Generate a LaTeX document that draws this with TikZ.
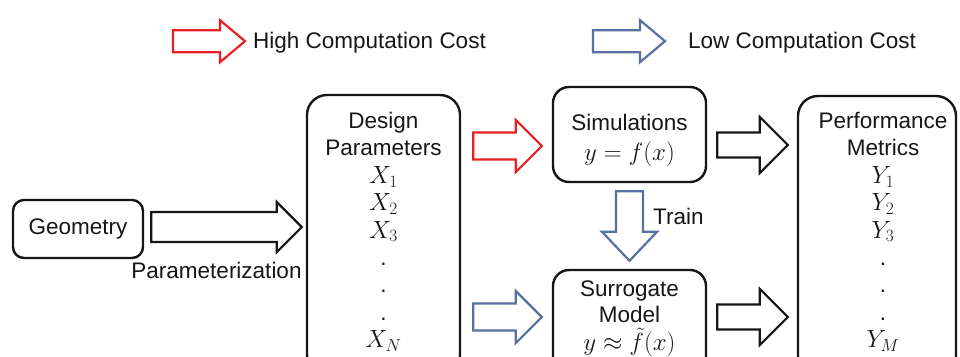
\documentclass[tikz,border=0pt]{standalone}
\usepackage{fontspec}
\setmainfont{Liberation Sans}
\usetikzlibrary{calc}

\definecolor{hotred}{RGB}{232,32,38}
\definecolor{coolblue}{RGB}{86,112,160}
\definecolor{ink}{RGB}{22,22,22}

% math set a little larger than the text around it
\newcommand\mth[1]{{\fontsize{24.5}{27.4}\selectfont$#1$}}

% Hollow block arrow from #2 to #3: #4 body half-width, #5 head half-width, #6 head length
\newcommand\blockarrow[6]{%
  \path (#2) coordinate (ba-s) (#3) coordinate (ba-e);
  \path ($(ba-e)!#6!(ba-s)$) coordinate (ba-h);
  \draw[#1] ($(ba-s)!#4!90:(ba-e)$) -- ($(ba-h)!#4!90:(ba-e)$)
    -- ($(ba-h)!#5!90:(ba-e)$) -- (ba-e) -- ($(ba-h)!#5!-90:(ba-e)$)
    -- ($(ba-h)!#4!-90:(ba-e)$) -- ($(ba-s)!#4!-90:(ba-e)$) -- cycle;}

\tikzset{
  box/.style={draw=ink, line width=2.4pt, inner sep=0pt, text=ink},
  label/.style={text=ink, inner sep=0pt, font=\fontsize{22.5}{26}\selectfont},
  stack/.style={text=ink, inner sep=0pt, align=center, anchor=north},
  costly/.style={draw=hotred, fill=white, line width=2.2pt, line join=miter},
  cheap/.style={draw=coolblue, fill=white, line width=2.2pt, line join=miter},
  plain/.style={draw=ink, fill=white, line width=2.2pt, line join=miter},
}

\begin{document}
\begin{tikzpicture}[x=1pt, y=-1pt]
  \useasboundingbox (0,0) rectangle (960,356);
  \clip (0,0) rectangle (960,356);

  % legend
  \node[label, anchor=base west] (hc) at (253,48) {High Computation Cost};
  \node[label, anchor=base west] (lc) at (688,48) {Low Computation Cost};
  \blockarrow{costly}{$(hc.west)+(-80,-1)$}{$(hc.west)+(-8,-1)$}{11pt}{21pt}{25pt}
  \blockarrow{cheap}{$(lc.west)+(-95,-1)$}{$(lc.west)+(-23,-1)$}{11pt}{21pt}{25pt}

  % boxes
  \node[box, rounded corners=11pt, minimum width=130pt, minimum height=58pt,
        font=\fontsize{22.5}{26}\selectfont] (geo) at (78,229) {Geometry};
  \node[box, rounded corners=20pt, minimum width=153pt, minimum height=280pt] (dp) at (383.5,235) {};
  \node[box, rounded corners=16pt, minimum width=153pt, minimum height=95pt] (sim) at (629.5,134.5) {};
  \node[box, rounded corners=16pt, minimum width=153pt, minimum height=110pt] (sur) at (629.5,325) {};
  \node[box, rounded corners=20pt, minimum width=158pt, minimum height=280pt] (pm) at (877,236) {};

  % box contents
  \node[stack, font=\fontsize{22.5}{27.4}\selectfont] (dp-txt) at (383.5,112)
    {Design\\Parameters\\\mth{X_1}\\\mth{X_2}\\\mth{X_3}\\.\\.\\.\\\mth{X_N}};
  \node[stack, font=\fontsize{22.5}{27.4}\selectfont] (pm-txt) at (883,112)
    {Performance\\Metrics\\\mth{Y_1}\\\mth{Y_2}\\\mth{Y_3}\\.\\.\\.\\\mth{Y_M}};
  \node[stack, font=\fontsize{22.5}{27}\selectfont] (sim-txt) at (629.5,114)
    {Simulations\\[3pt]\mth{y=f(x)}};
  \node[stack, font=\fontsize{22.5}{26}\selectfont] (sur-txt) at (629.5,281)
    {Surrogate\\Model\\[2pt]\mth{y\approx\tilde{f}(x)}};

  % labels on the flow
  \node[label, anchor=base] (param) at (216.5,278) {Parameterization};
  \node[label, anchor=base west] (train) at (653,224) {Train};

  % flow arrows
  \blockarrow{plain}{$(geo.east)+(7,-2)$}{$(geo.east -| dp.west)+(-4,-2)$}{15pt}{25pt}{25pt}
  \blockarrow{costly}{$(dp.east |- sim.center)+(12,11.5)$}{$(sim.west)+(-10,11.5)$}{13.5pt}{26pt}{26pt}
  \blockarrow{cheap}{$(dp.east |- sur.center)+(12,-8)$}{$(sur.west |- sur.center)+(-10,-8)$}{13.5pt}{26pt}{26pt}
  \blockarrow{plain}{$(sim.east)+(10,10.5)$}{$(sim.east -| pm.west)+(-9,10.5)$}{12.5pt}{28pt}{28pt}
  \blockarrow{plain}{$(sur.east)+(10,-8)$}{$(sur.east -| pm.west)+(-9,-8)$}{12.5pt}{28pt}{28pt}
  \blockarrow{cheap}{$(sim.south)+(0,8)$}{$(sur.north)+(0,-8)$}{13.5pt}{27.5pt}{29pt}
\end{tikzpicture}
\end{document}
